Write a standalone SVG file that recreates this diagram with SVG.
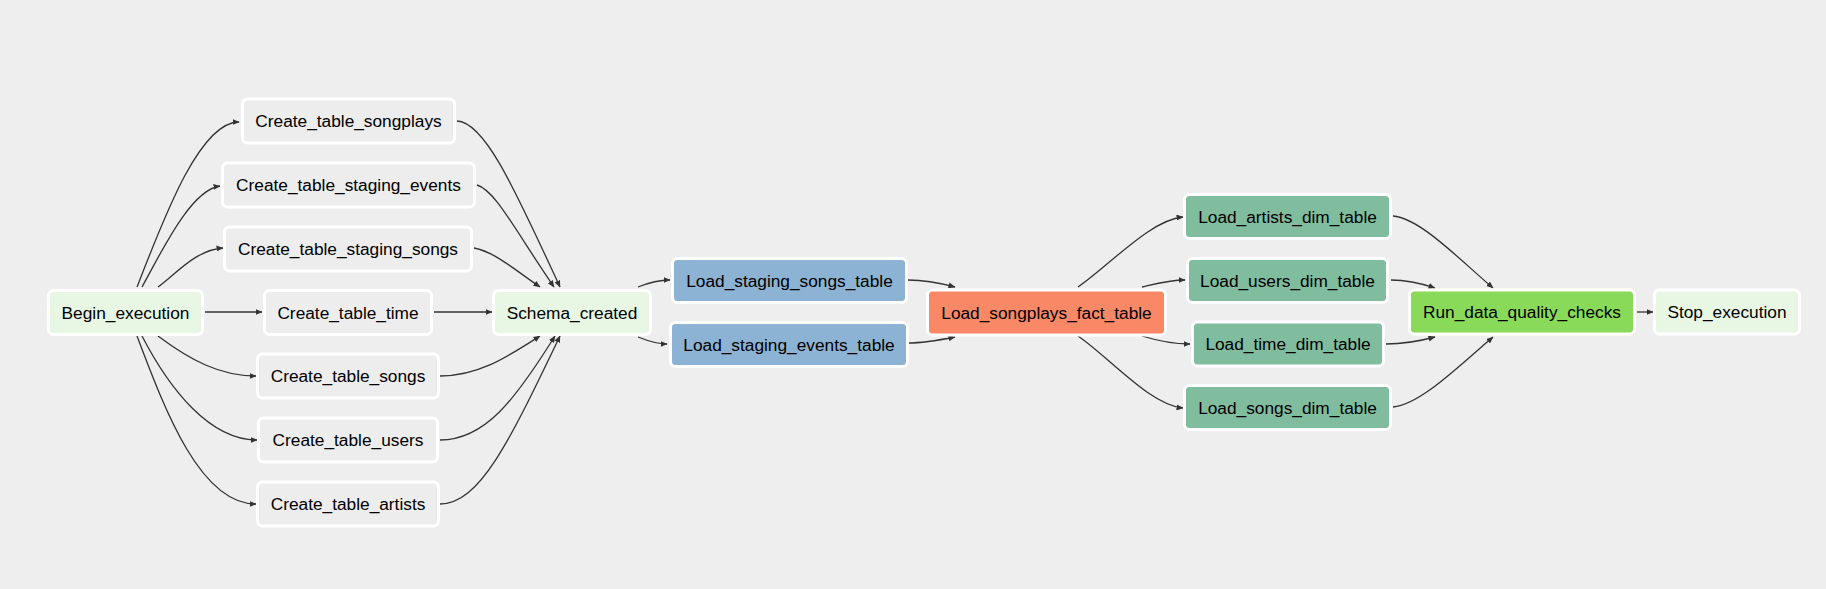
<svg xmlns="http://www.w3.org/2000/svg" width="1826" height="589" viewBox="0 0 1826 589">
<style>
.n rect{stroke:#ffffff;stroke-width:3}
.n text{font-family:"Liberation Sans",Arial,sans-serif;font-size:17.3px;fill:#000;text-anchor:middle}
.pg{fill:#ededed}.dm{fill:#e8f7e4}.st{fill:#8db3d4}.ft{fill:#f98866}.dim{fill:#80bd9e}.dq{fill:#89da59}
#edges path{fill:none;stroke:#333;stroke-width:1.3;marker-end:url(#ah)}
</style>
<defs>
<marker id="ah" markerUnits="userSpaceOnUse" markerWidth="7" markerHeight="6" refX="6.5" refY="3" orient="auto">
<path d="M0,0 L7,3 L0,6 z" fill="#333"/>
</marker>
</defs>
<rect width="1826" height="589" fill="#eeeeee"/>
<g id="edges">
<path d="M137,287 C165,215 200,122 239,122"/>
<path d="M142,287 C160,255 190,190 220,186"/>
<path d="M158,287 C175,275 195,250 223,248"/>
<path d="M205,312 L262,312"/>
<path d="M158,336 C190,360 220,376 256,376"/>
<path d="M142,336 C170,390 210,440 257,440"/>
<path d="M137,336 C165,410 200,504 256,504"/>
<path d="M457,121 C485,122 515,190 560,287"/>
<path d="M477,185 C495,190 515,230 554,287"/>
<path d="M474,248 C495,252 515,270 540,287"/>
<path d="M434,312 L492,312"/>
<path d="M440,376 C480,376 510,355 540,336"/>
<path d="M440,440 C485,440 515,400 555,336"/>
<path d="M440,504 C480,504 510,440 560,336"/>
<path d="M638,287 C648,283 658,280 670,280"/>
<path d="M638,337 C648,341 657,344 667,344"/>
<path d="M908,280 C925,280 940,283 955,287"/>
<path d="M908,343 C925,343 940,340 955,337"/>
<path d="M1078,287 C1110,265 1150,220 1183,217"/>
<path d="M1142,287 C1155,284 1170,280 1185,280"/>
<path d="M1142,336 C1155,340 1170,344 1190,344"/>
<path d="M1078,336 C1110,358 1150,405 1183,408"/>
<path d="M1393,216 C1420,218 1460,260 1493,288"/>
<path d="M1391,280 C1405,280 1420,283 1435,288"/>
<path d="M1386,344 C1405,344 1420,341 1435,337"/>
<path d="M1393,407 C1420,405 1460,365 1493,337"/>
<path d="M1637,312 L1653,312"/>
</g>
<g id="Begin_execution" class="n"><rect class="dm" x="48.5" y="290.5" width="154" height="44" rx="5"/><text x="125.5" y="318.5">Begin_execution</text></g>
<g id="Create_table_songplays" class="n"><rect class="pg" x="242.5" y="99" width="212" height="44" rx="5"/><text x="348.5" y="127">Create_table_songplays</text></g>
<g id="Create_table_staging_events" class="n"><rect class="pg" x="222.5" y="163" width="252" height="44" rx="5"/><text x="348.5" y="191">Create_table_staging_events</text></g>
<g id="Create_table_staging_songs" class="n"><rect class="pg" x="224.5" y="227" width="247" height="44" rx="5"/><text x="348" y="255">Create_table_staging_songs</text></g>
<g id="Create_table_time" class="n"><rect class="pg" x="264.5" y="290.5" width="167" height="44" rx="5"/><text x="348" y="318.5">Create_table_time</text></g>
<g id="Create_table_songs" class="n"><rect class="pg" x="257.5" y="354" width="181" height="44" rx="5"/><text x="348" y="382">Create_table_songs</text></g>
<g id="Create_table_users" class="n"><rect class="pg" x="258.5" y="418" width="179" height="44" rx="5"/><text x="348" y="446">Create_table_users</text></g>
<g id="Create_table_artists" class="n"><rect class="pg" x="257.5" y="482" width="181" height="44" rx="5"/><text x="348" y="510">Create_table_artists</text></g>
<g id="Schema_created" class="n"><rect class="dm" x="493.5" y="290.5" width="157" height="44" rx="5"/><text x="572" y="318.5">Schema_created</text></g>
<g id="Load_staging_songs_table" class="n"><rect class="st" x="672.5" y="258.5" width="234" height="44" rx="5"/><text x="789.5" y="286.5">Load_staging_songs_table</text></g>
<g id="Load_staging_events_table" class="n"><rect class="st" x="670.5" y="322.5" width="237" height="44" rx="5"/><text x="789" y="350.5">Load_staging_events_table</text></g>
<g id="Load_songplays_fact_table" class="n"><rect class="ft" x="927.5" y="290" width="238" height="45" rx="5"/><text x="1046.5" y="318.5">Load_songplays_fact_table</text></g>
<g id="Load_artists_dim_table" class="n"><rect class="dim" x="1184.5" y="194.5" width="206" height="44" rx="5"/><text x="1287.5" y="222.5">Load_artists_dim_table</text></g>
<g id="Load_users_dim_table" class="n"><rect class="dim" x="1187.5" y="258.5" width="200" height="44" rx="5"/><text x="1287.5" y="286.5">Load_users_dim_table</text></g>
<g id="Load_time_dim_table" class="n"><rect class="dim" x="1192.5" y="322" width="191" height="44" rx="5"/><text x="1288" y="350">Load_time_dim_table</text></g>
<g id="Load_songs_dim_table" class="n"><rect class="dim" x="1184.5" y="385.5" width="206" height="44" rx="5"/><text x="1287.5" y="413.5">Load_songs_dim_table</text></g>
<g id="Run_data_quality_checks" class="n"><rect class="dq" x="1409.5" y="290" width="225" height="44" rx="5"/><text x="1522" y="318">Run_data_quality_checks</text></g>
<g id="Stop_execution" class="n"><rect class="dm" x="1654.5" y="290" width="145" height="44" rx="5"/><text x="1727" y="318">Stop_execution</text></g>
</svg>
